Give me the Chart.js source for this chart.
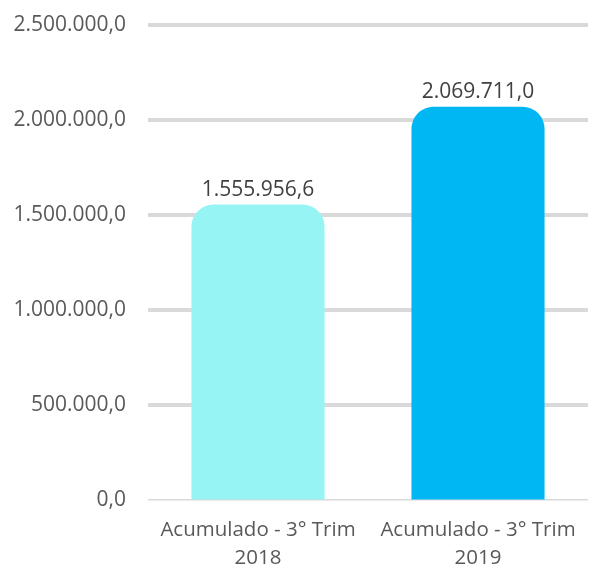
<!DOCTYPE html>
<html>
<head>
<meta charset="utf-8">
<script src="https://cdn.jsdelivr.net/npm/chart.js@4"></script>
<style>
  html, body { margin: 0; padding: 0; background: #fff; }
  #wrap { width: 589px; height: 570px; }
</style>
</head>
<body>
<div id="wrap"><canvas id="chart"></canvas></div>
<script>
const categories = [['Acumulado - 3° Trim', '2018'], ['Acumulado - 3° Trim', '2019']];
const values = [1555956.6, 2069711.0];
const barColors = ['#97F4F4', '#00B7F4'];
const yTicks = [0, 500000, 1000000, 1500000, 2000000, 2500000];

// formato pt-BR com uma casa decimal
function fmt(v) {
    return v.toLocaleString('pt-BR', { minimumFractionDigits: 1, maximumFractionDigits: 1 });
}

// rótulos de valor acima das barras
const valueLabels = {
    id: 'valueLabels',
    afterDatasetsDraw(chart) {
        const ctx = chart.ctx;
        const meta = chart.getDatasetMeta(0);
        ctx.save();
        ctx.font = '21px "Open Sans", sans-serif';
        ctx.fillStyle = '#404040';
        ctx.textAlign = 'center';
        ctx.textBaseline = 'bottom';
        meta.data.forEach((bar, i) => {
            ctx.fillText(fmt(values[i]), bar.x, bar.y - 4);
        });
        ctx.restore();
    }
};

new Chart(document.getElementById('chart'), {
    type: 'bar',
    data: {
        labels: categories,
        datasets: [{
            data: values,
            backgroundColor: barColors,
            borderRadius: { topLeft: 22, topRight: 22, bottomLeft: 0, bottomRight: 0 },
            borderSkipped: false,
            categoryPercentage: 0.605,
            barPercentage: 1.0
        }]
    },
    options: {
        responsive: true,
        maintainAspectRatio: false,
        animation: false,
        layout: { padding: { top: 25, right: 1, left: 0, bottom: -10 } },
        plugins: {
            legend: { display: false },
            tooltip: { enabled: false }
        },
        scales: {
            x: {
                grid: { display: false },
                border: { display: false },
                ticks: {
                    color: '#595959',
                    font: { family: '"Open Sans", sans-serif', size: 20.5, lineHeight: 1.36 },
                    padding: 8,
                    maxRotation: 0
                }
            },
            y: {
                min: 0,
                max: 2500000,
                afterBuildTicks(axis) {
                    axis.ticks = yTicks.map(v => ({ value: v }));
                },
                afterFit(axis) {
                    axis.width = 148;
                    axis.paddingTop = 0;
                },
                border: { display: false },
                grid: {
                    color: '#D9D9D9',
                    lineWidth: ctx => (ctx.tick && ctx.tick.value === 0 ? 1.5 : 4),
                    drawTicks: false
                },
                ticks: {
                    color: '#595959',
                    font: { family: '"Open Sans", sans-serif', size: 21 },
                    padding: 22,
                    callback: v => fmt(v)
                }
            }
        }
    },
    plugins: [valueLabels]
});
</script>
</body>
</html>
